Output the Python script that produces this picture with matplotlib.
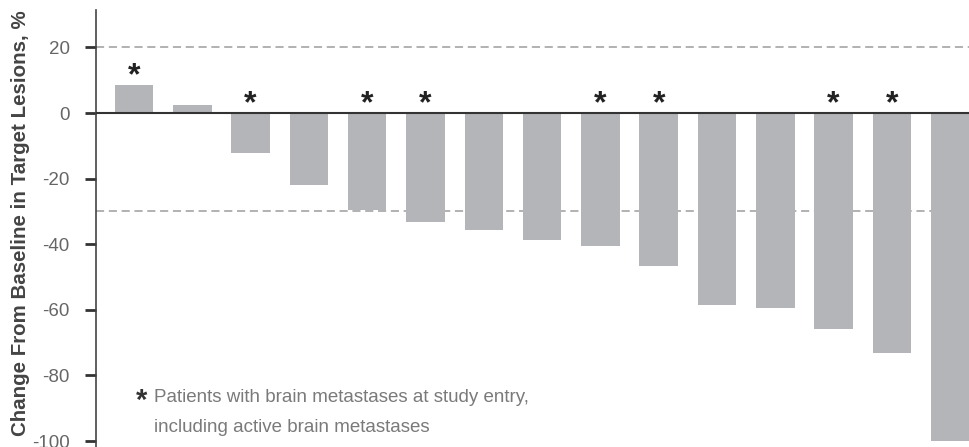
import matplotlib.pyplot as plt

# best % change from baseline in target lesions, one bar per patient
change = [8.5, 2.4, -12.2, -22.0, -29.6, -33.2, -35.7, -38.7,
          -40.5, -46.6, -58.5, -59.3, -65.9, -73.2, -100.0]
# patients with brain metastases at study entry
brain_mets = [1, 0, 1, 0, 1, 1, 0, 0, 1, 1, 0, 0, 1, 1, 0]
yticks = [20, 0, -20, -40, -60, -80, -100]
ref_lines = [20, -30]

plt.rcParams['font.family'] = ['Liberation Sans', 'DejaVu Sans']

fig = plt.figure(figsize=(9.7, 4.47), dpi=100)
ax = fig.add_axes([96 / 970, 0, 874 / 970, 437 / 447])

x = list(range(len(change)))
ax.bar(x, change, width=0.66, color='#b4b5b9', zorder=2)

for y in ref_lines:
    ax.axhline(y, color='#ababab', linestyle=(0, (4.5, 2.6)), linewidth=1.3, zorder=1)
ax.axhline(0, color='#333333', linewidth=1.5, zorder=3)

for i, v in enumerate(change):
    if brain_mets[i]:
        ax.text(i, max(v, 0) + 2.6, '*', ha='center', va='center',
                fontsize=23, fontweight='bold', color='#222222')

ax.set_xlim(-0.652, 14.34)
ax.set_ylim(-101.8, 31.4)
ax.set_yticks(yticks)
ax.set_yticklabels([str(t) for t in yticks])
ax.tick_params(axis='y', direction='out', length=8, width=2, color='#333333',
               labelcolor='#666666', labelsize=13.5, pad=11)
ax.set_xticks([])
for s in ['top', 'right', 'bottom']:
    ax.spines[s].set_visible(False)
ax.spines['left'].set_color('#444444')
ax.spines['left'].set_linewidth(1.2)

fig.text(21 / 970, 0.5, 'Change From Baseline in Target Lesions, %', rotation=90,
         ha='center', va='center', fontsize=14.8, fontweight='bold', color='#444444')

# footnote
fig.text(136 / 970, 1 - 401 / 447, '*', ha='left', va='center',
         fontsize=21, fontweight='bold', color='#333333')
fig.text(154 / 970, 1 - 398 / 447, 'Patients with brain metastases at study entry,',
         ha='left', va='center', fontsize=13.5, color='#7a7a7a')
fig.text(154 / 970, 1 - 427 / 447, 'including active brain metastases',
         ha='left', va='center', fontsize=13.5, color='#7a7a7a')

fig.savefig('out.png', dpi=100)
